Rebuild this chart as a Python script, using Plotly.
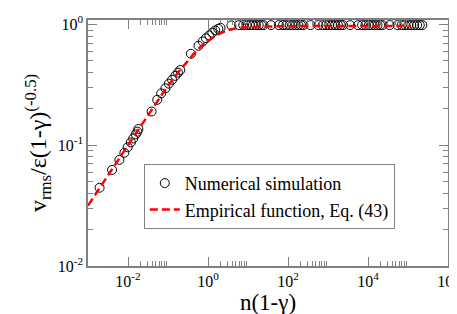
import plotly.graph_objects as go

# Numerical simulation data
sim_x = [0.00195, 0.0040, 0.0061, 0.0081, 0.0098, 0.0118, 0.0135, 0.0156, 0.0172, 0.0182,
         0.0389, 0.0538, 0.0676, 0.0863, 0.1047, 0.1264, 0.1525, 0.178, 0.203,
         0.373, 0.578, 0.738, 0.891, 1.08, 1.28, 1.52, 1.81, 2.06,
         3.85, 6.0, 7.6, 9.2, 11.2, 13.3, 15.8, 18.5, 21.5, 24.5,
         37.6, 59, 75, 91, 110, 130, 155, 182, 212, 242,
         366, 575, 735, 890, 1070, 1270, 1510, 1780, 2080, 2380,
         3570, 5600, 7150, 8650, 10500, 12400, 14700, 17300, 20200, 23200,
         34800, 54500, 69500, 84000, 102000, 121000, 143000, 169000, 197000, 228000]
sim_y = [0.0445, 0.0625, 0.0757, 0.0867, 0.0964, 0.1057, 0.1138, 0.1233, 0.1297, 0.1364,
         0.1905, 0.238, 0.269, 0.297, 0.324, 0.349, 0.376, 0.400, 0.420,
         0.573, 0.668, 0.725, 0.771, 0.815, 0.857, 0.895, 0.923, 0.940,
         0.985, 0.99, 0.99, 0.99, 0.99, 0.99, 0.99, 0.99, 0.99, 0.99,
         0.99, 0.99, 0.99, 0.99, 0.99, 0.99, 0.99, 0.99, 0.99, 0.99,
         0.99, 0.99, 0.99, 0.99, 0.99, 0.99, 0.99, 0.99, 0.99, 0.99,
         0.99, 0.99, 0.99, 0.99, 0.99, 0.99, 0.99, 0.99, 0.99, 0.99,
         0.99, 0.99, 0.99, 0.99, 0.99, 0.99, 0.99, 0.99, 0.99, 0.99]

# Empirical function, Eq. (43)
emp_x = [0.001, 0.01, 0.05, 0.1, 0.2, 0.3, 0.5, 0.75, 1.0, 1.5, 2.2, 3.2, 4.7, 7, 10, 20, 100, 1000, 10000, 120000]
emp_y = [0.0316, 0.1, 0.222, 0.31, 0.42, 0.49, 0.60, 0.68, 0.73, 0.80, 0.857, 0.90, 0.929, 0.945, 0.952, 0.96, 0.97, 0.975, 0.975, 0.975]

x_tickvals = [1e-2, 1e0, 1e2, 1e4, 1e6]
x_ticktext = ["10<sup>-2</sup>", "10<sup>0</sup>", "10<sup>2</sup>", "10<sup>4</sup>", "10<sup>6</sup>"]
y_tickvals = [1e-2, 1e-1, 1e0]
y_ticktext = ["10<sup>-2</sup>", "10<sup>-1</sup>", "10<sup>0</sup>"]

x_minor = [m * 10 ** e for e in (-2, 0, 2, 4) for m in range(2, 10)]
y_minor = [m * 10 ** e for e in (-2, -1) for m in range(2, 10)]

FONT = "Liberation Serif"
AX = "#808080"

fig = go.Figure()
fig.add_trace(go.Scatter(
    x=sim_x, y=sim_y, mode="markers", name="Numerical simulation",
    marker=dict(symbol="circle-open", size=9, color="black", line=dict(width=1, color="black")),
))
fig.add_trace(go.Scatter(
    x=emp_x, y=emp_y, mode="lines", name="Empirical function, Eq. (43)",
    line=dict(color="#ff0000", width=2.5, dash="8px,4px", shape="spline"),
))

fig.update_layout(
    width=457, height=314,
    margin=dict(l=80, r=13, t=6, b=56),
    paper_bgcolor="white", plot_bgcolor="white",
    font=dict(family=FONT, color="black"),
    showlegend=True,
    legend=dict(x=0.155, y=0.415, xanchor="left", yanchor="top",
                bgcolor="white", bordercolor=AX, borderwidth=1,
                font=dict(size=18, family=FONT, color="black"),
                tracegroupgap=0, itemwidth=30),
)
fig.update_xaxes(
    type="log", range=[-3, 6],
    tickmode="array", tickvals=x_tickvals, ticktext=x_ticktext,
    ticks="inside", ticklen=9, tickwidth=1, tickcolor=AX,
    minor=dict(tickmode="array", tickvals=x_minor, ticks="inside", ticklen=5, tickcolor=AX, showgrid=False),
    showline=True, linecolor=AX, linewidth=1.5, mirror="ticks",
    showgrid=False, zeroline=False,
    tickfont=dict(size=16, family=FONT, color="black"),
    title=dict(text="n(1-γ)", font=dict(size=23, family=FONT, color="black"), standoff=0),
)
fig.update_yaxes(
    type="log", range=[-2, 0.038],
    tickmode="array", tickvals=y_tickvals, ticktext=y_ticktext,
    ticks="inside", ticklen=9, tickwidth=1, tickcolor=AX,
    minor=dict(tickmode="array", tickvals=y_minor, ticks="inside", ticklen=5, tickcolor=AX, showgrid=False),
    showline=True, linecolor=AX, linewidth=1.5, mirror="ticks",
    showgrid=False, zeroline=False,
    tickfont=dict(size=16, family=FONT, color="black"),
    title=dict(text="v<sub>rms</sub>/ε(1-γ)<sup>(-0.5)</sup>", font=dict(size=24, family=FONT, color="black"), standoff=4),
)

fig.write_html("out.html")
